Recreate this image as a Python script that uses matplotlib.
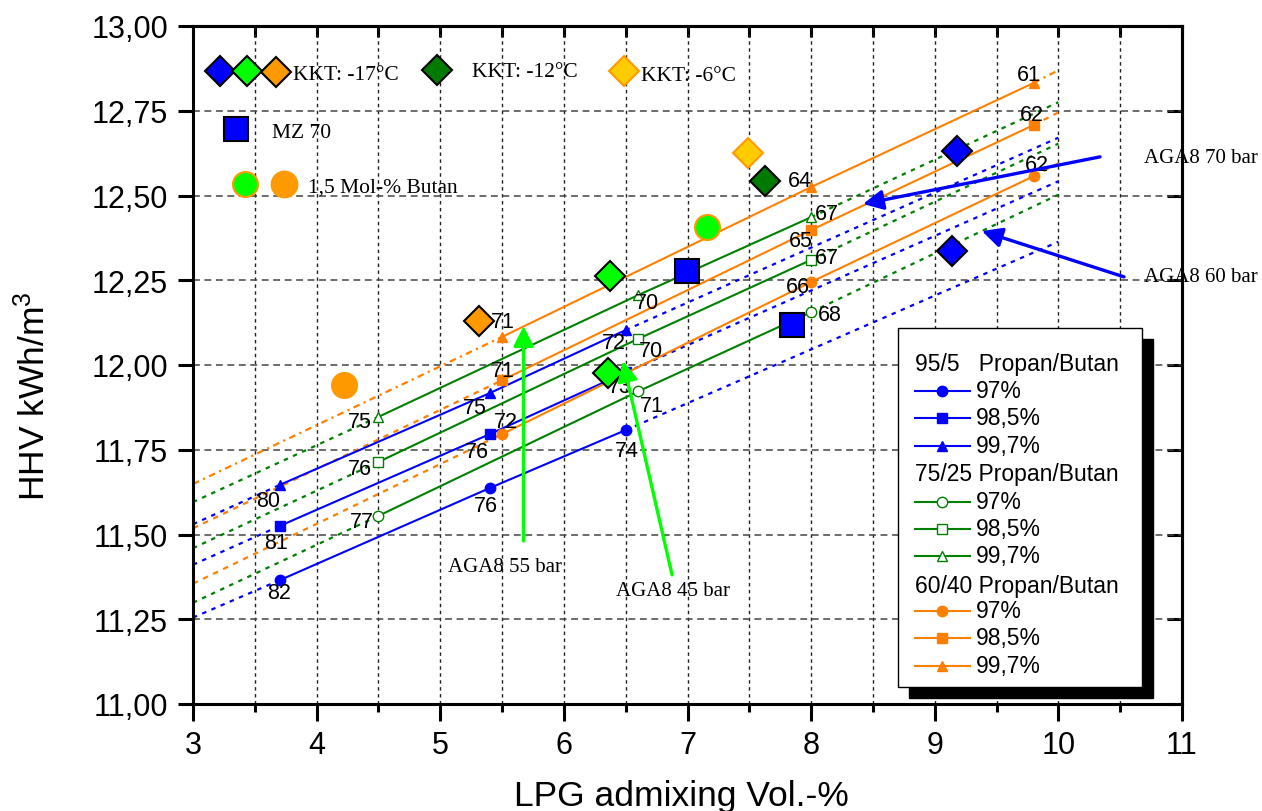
import numpy as np
import matplotlib
matplotlib.use('Agg')
import matplotlib.pyplot as plt
from matplotlib.ticker import MultipleLocator, FuncFormatter, NullLocator, NullFormatter
from matplotlib.patches import Rectangle
from matplotlib.lines import Line2D

plt.rcParams['font.family'] = ['Liberation Sans', 'DejaVu Sans']
plt.rcParams['mathtext.fontset'] = 'custom'
plt.rcParams['mathtext.rm'] = 'Liberation Sans'
plt.rcParams['mathtext.it'] = 'Liberation Sans:italic'
plt.rcParams['mathtext.bf'] = 'Liberation Sans:bold'
SERIF = ['Liberation Serif', 'DejaVu Serif']

# ---------------- data ----------------
# 95/5 Propan/Butan
b97_x = [3.7, 5.4, 6.5]
b97_y = [11.365, 11.637, 11.808]
b97_lab = ['82', '76', '74']
b985_x = [3.7, 5.4, 6.5]
b985_y = [11.525, 11.796, 11.978]
b985_lab = ['81', '76', '73']
b997_x = [3.7, 5.4, 6.5]
b997_y = [11.646, 11.917, 12.103]
b997_lab = ['80', '75', '72']
# 75/25 Propan/Butan
g97_x = [4.5, 6.6, 8.0]
g97_y = [11.555, 11.922, 12.156]
g97_lab = ['77', '71', '68']
g985_x = [4.5, 6.6, 8.0]
g985_y = [11.714, 12.077, 12.31]
g985_lab = ['76', '70', '67']
g997_x = [4.5, 6.6, 8.0]
g997_y = [11.847, 12.206, 12.436]
g997_lab = ['75', '70', '67']
# 60/40 Propan/Butan
o97_x = [5.5, 8.0, 9.8]
o97_y = [11.796, 12.245, 12.557]
o97_lab = ['72', '66', '62']
o985_x = [5.5, 8.0, 9.8]
o985_y = [11.955, 12.398, 12.708]
o985_lab = ['71', '65', '62']
o997_x = [5.5, 8.0, 9.8]
o997_y = [12.083, 12.525, 12.832]
o997_lab = ['71', '64', '61']

# measured points
kkt17_blue_x = [9.178, 9.137]
kkt17_blue_y = [12.632, 12.337]
kkt17_green_x = [6.373, 6.354]
kkt17_green_y = [12.262, 11.976]
kkt17_orange_x = [5.313]
kkt17_orange_y = [12.131]
kkt12_x = [7.627]
kkt12_y = [12.542]
kkt6_x = [7.492]
kkt6_y = [12.625]
mz70_x = [6.994, 7.843]
mz70_y = [12.278, 12.118]
butan_green_x = [7.155]
butan_green_y = [12.408]
butan_orange_x = [4.224]
butan_orange_y = [11.941]

x_ticks_max = 11
extension_range = (3.0, 10.0)

# ---------------- styles ----------------
BLUE = '#0000FF'
GREEN = '#008000'
ORANGE = '#FF8000'
LGREEN = '#00FF00'
DORANGE = '#FF9900'

series = [
    (b97_x, b97_y, b97_lab, BLUE, 'o', BLUE, [(0, -12), (-4, -17), (1, -20)], (0, (2, 2.5))),
    (b985_x, b985_y, b985_lab, BLUE, 's', BLUE, [(-4, -16), (-13, -17), (-6, -14)], (0, (2, 2.5))),
    (b997_x, b997_y, b997_lab, BLUE, '^', BLUE, [(-11, -15), (-15, -14), (-12, -12)], (0, (2, 2.5))),
    (g97_x, g97_y, g97_lab, GREEN, 'o', 'white', [(-17, -6), (14, -14), (19, -2)], (0, (2, 2.5))),
    (g985_x, g985_y, g985_lab, GREEN, 's', 'white', [(-19, -7), (13, -12), (16, 2)], (0, (2, 2.5))),
    (g997_x, g997_y, g997_lab, GREEN, '^', 'white', [(-19, -5), (9, -7), (16, 4)], (0, (2, 2.5))),
    (o97_x, o97_y, o97_lab, ORANGE, 'o', ORANGE, [(4, 13), (-13, -5), (3, 12)], (0, (2.5, 2.5))),
    (o985_x, o985_y, o985_lab, ORANGE, 's', ORANGE, [(1, 10), (-10, -10), (-2, 10)], (0, (2.5, 2.5))),
    (o997_x, o997_y, o997_lab, ORANGE, '^', ORANGE, [(1, 15), (-11, 7), (-5, 8)], (0, (3, 2, 1, 2))),
]

fig = plt.figure(figsize=(12.62, 8.12), dpi=100)
ax = fig.add_axes([193 / 1262, 1 - 705 / 812, 989 / 1262, 678 / 812])
ax.set_xlim(3, x_ticks_max)
ax.set_ylim(11, 13)


def P(X, Y):
    """reference pixel -> axes fraction (for annotation placement only)"""
    return ((X - 193) / 989, (705 - Y) / 678)


# grid
ax.xaxis.set_major_locator(MultipleLocator(1))
ax.xaxis.set_minor_locator(MultipleLocator(0.5))
ax.yaxis.set_major_locator(MultipleLocator(0.25))
ax.yaxis.set_minor_locator(NullLocator())
ax.grid(True, axis='x', which='both', color='#222222', lw=1.0, ls=(0, (2.5, 2.5)))
ax.grid(True, axis='y', which='major', color='#444444', lw=1.1, ls=(0, (4.5, 3)))
ax.set_axisbelow(True)

ax.xaxis.set_major_formatter(FuncFormatter(lambda v, p: f'{v:g}'))
ax.yaxis.set_major_formatter(FuncFormatter(lambda v, p: f'{v:.2f}'.replace('.', ',')))
ax.tick_params(axis='x', which='major', direction='out', length=12, width=2.2, labelsize=22, pad=7)
ax.tick_params(axis='x', which='minor', direction='out', length=6, width=2.2)
ax.tick_params(axis='y', which='major', direction='out', length=11, width=2.2, labelsize=22, pad=7)
for s in ax.spines.values():
    s.set_linewidth(2.2)

secx = ax.secondary_xaxis('top')
secx.xaxis.set_major_locator(MultipleLocator(0.5))
secx.xaxis.set_major_formatter(NullFormatter())
secx.tick_params(axis='x', direction='in', length=8, width=2.2)
secx.spines['top'].set_linewidth(2.2)
secy = ax.secondary_yaxis('right')
secy.yaxis.set_major_locator(MultipleLocator(0.25))
secy.yaxis.set_major_formatter(NullFormatter())
secy.tick_params(axis='y', direction='in', length=11, width=2.2)
secy.spines['right'].set_linewidth(2.2)

ax.set_xlabel('LPG admixing Vol.-%', fontsize=25.5)
ax.set_ylabel('HHV kWh/m$^3$', fontsize=25.5)
ax.xaxis.set_label_coords(0.494, -0.11)
ax.yaxis.set_label_coords(-0.143, 0.456)

# series lines with extrapolated trend lines
for xs, ys, labs, col, mk, mfc, offs, dash in series:
    k, d = np.polyfit(xs, ys, 1)
    x0, x1 = extension_range
    ax.plot([x0, xs[0]], [k * x0 + d, ys[0]], color=col, lw=1.6, ls=dash, zorder=2)
    ax.plot([xs[-1], x1], [ys[-1], k * x1 + d], color=col, lw=1.6, ls=dash, zorder=2)
    ax.plot(xs, ys, color=col, lw=1.5, marker=mk, ms=7.5 if mk != 's' else 7,
            mfc=mfc, mec=col, mew=1.0, zorder=3)
    for x, y, t, (dx, dy) in zip(xs, ys, labs, offs):
        ax.annotate(t, (x, y), xytext=(dx, dy), textcoords='offset pixels',
                    ha='center', va='center', fontsize=15.5, zorder=4)

# measured points
ax.plot(kkt17_blue_x, kkt17_blue_y, 'D', ms=15, mfc=BLUE, mec='black', mew=1.5, ls='none', zorder=5)
ax.plot(kkt17_green_x, kkt17_green_y, 'D', ms=15, mfc=LGREEN, mec='black', mew=1.5, ls='none', zorder=5)
ax.plot(kkt17_orange_x, kkt17_orange_y, 'D', ms=15, mfc=DORANGE, mec='black', mew=1.5, ls='none', zorder=5)
ax.plot(kkt12_x, kkt12_y, 'D', ms=15, mfc='#007A00', mec='black', mew=1.5, ls='none', zorder=5)
ax.plot(kkt6_x, kkt6_y, 'D', ms=15, mfc='#FFCC00', mec=DORANGE, mew=1.5, ls='none', zorder=5)
ax.plot(mz70_x, mz70_y, 's', ms=17, mfc=BLUE, mec='black', mew=1.5, ls='none', zorder=5)
ax.plot(butan_green_x, butan_green_y, 'o', ms=18, mfc=LGREEN, mec=DORANGE, mew=1.5, ls='none', zorder=5)
ax.plot(butan_orange_x, butan_orange_y, 'o', ms=18.5, mfc=DORANGE, mec=DORANGE, mew=1.0, ls='none', zorder=5)

# key in the upper left
keys = [
    ((220, 72), 'D', BLUE, 'black', 15), ((247, 72), 'D', LGREEN, 'black', 15),
    ((276, 73), 'D', DORANGE, 'black', 15), ((437, 71), 'D', '#007A00', 'black', 15),
    ((624, 72), 'D', '#FFCC00', DORANGE, 15), ((236, 130), 's', BLUE, 'black', 17),
    ((245, 185), 'o', LGREEN, DORANGE, 18), ((284, 185), 'o', DORANGE, DORANGE, 18.5),
]
for (X, Y), mk, fc, ec, ms in keys:
    ax.plot(*P(X, Y), marker=mk, ms=ms, mfc=fc, mec=ec, mew=1.5, ls='none',
            transform=ax.transAxes, zorder=5, clip_on=False)
key_texts = [((293, 80), 'KKT: -17°C'), ((472, 77), 'KKT: -12°C'), ((641, 81), 'KKT: -6°C'),
             ((272, 138), 'MZ 70'), ((308, 193), '1,5 Mol-% Butan')]
for (X, Y), t in key_texts:
    ax.text(*P(X, Y), t, transform=ax.transAxes, ha='left', va='baseline',
            fontsize=15.5, family=SERIF, zorder=6)

# AGA8 arrows
arrows = [
    ((10.337, 12.614), (8.42, 12.475), BLUE),
    ((10.531, 12.26), (9.382, 12.395), BLUE),
    ((5.674, 11.481), (5.674, 12.115), LGREEN),
    ((6.875, 11.381), (6.478, 12.012), LGREEN),
]
for tail, tip, col in arrows:
    ax.annotate('', xy=tip, xytext=tail,
                arrowprops=dict(arrowstyle='-|>,head_length=0.6,head_width=0.3', color=col,
                                lw=2.4, mutation_scale=20, shrinkA=0, shrinkB=0), zorder=6)
aga_texts = [((1144, 163), 'AGA8 70 bar'), ((1144, 282), 'AGA8 60 bar'),
             ((448, 572), 'AGA8 55 bar'), ((616, 596), 'AGA8 45 bar')]
for (X, Y), t in aga_texts:
    ax.text(*P(X, Y), t, transform=ax.transAxes, ha='left', va='baseline',
            fontsize=15, family=SERIF, zorder=1, clip_on=False)

# legend box (drawn manually with shadow)
bx0, by0, bx1, by1 = 898, 329, 1142, 688
sh = 11
x0a, y1a = P(bx0 + sh, by1 + sh)
x1a, y0a = P(bx1 + sh, by0 + sh)
ax.add_patch(Rectangle((x0a, y1a), x1a - x0a, y0a - y1a, transform=ax.transAxes,
                       facecolor='black', edgecolor='black', zorder=9, clip_on=False))
x0a, y1a = P(bx0, by1)
x1a, y0a = P(bx1, by0)
ax.add_patch(Rectangle((x0a, y1a), x1a - x0a, y0a - y1a, transform=ax.transAxes,
                       facecolor='white', edgecolor='black', lw=1.0, zorder=10, clip_on=False))

headers = ['95/5   Propan/Butan', '75/25 Propan/Butan', '60/40 Propan/Butan']
pct = ['97%', '98,5%', '99,7%']
rows_y = [365, 392, 419, 447, 475, 503, 530, 557, 587, 612, 639, 667]
for gi in range(3):
    hy = rows_y[gi * 4]
    ax.text(*P(915, hy), headers[gi], transform=ax.transAxes, ha='left', va='center',
            fontsize=16.5, zorder=11)
    for j in range(3):
        _, _, _, col, mk, mfc, _, _ = series[gi * 3 + j]
        ry = rows_y[gi * 4 + 1 + j]
        (lx0, ly), (lx1, _) = P(915, ry), P(970, ry)
        ax.add_line(Line2D([lx0, lx1], [ly, ly], color=col, lw=1.5, transform=ax.transAxes,
                           zorder=11, clip_on=False))
        ax.add_line(Line2D([P(942, ry)[0]], [ly], marker=mk, ms=7.5 if mk != 's' else 7,
                           mfc=mfc, mec=col, mew=1.0, transform=ax.transAxes, zorder=12,
                           clip_on=False))
        ax.text(*P(976, ry), pct[j], transform=ax.transAxes, ha='left', va='center',
                fontsize=16.5, zorder=11)

fig.savefig('out.png', dpi=100)
